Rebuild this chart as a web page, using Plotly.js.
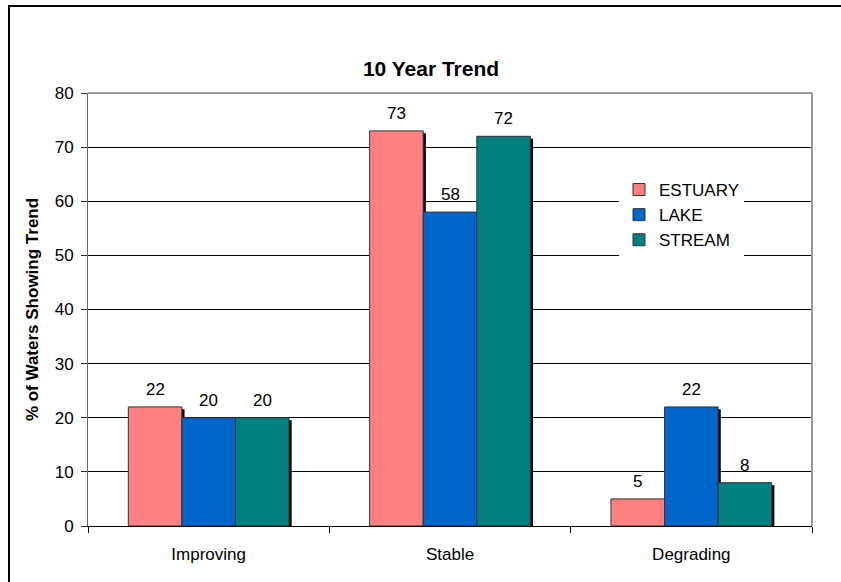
<!DOCTYPE html>
<html>
<head>
<meta charset="utf-8">
<script src="https://cdn.plot.ly/plotly-3.0.1.min.js"></script>
<style>
  html, body { margin: 0; padding: 0; background: #ffffff; overflow: hidden; width: 841px; height: 582px; }
  #hline { position: absolute; left: 8px; top: 5px; width: 833px; height: 2px; background: #000; }
  #vline { position: absolute; left: 8px; top: 5px; width: 2px; height: 577px; background: #000; }
  #chart { position: absolute; left: 0; top: 0; width: 841px; height: 582px; }
</style>
</head>
<body>
<div id="hline"></div>
<div id="vline"></div>
<div id="chart"></div>
<script>
// ---- data ----
const categories = ['Improving', 'Stable', 'Degrading'];
const seriesNames = ['ESTUARY', 'LAKE', 'STREAM'];
const estuary = [22, 73, 5];
const lake = [20, 58, 22];
const stream = [20, 72, 8];
const yTicks = [0, 10, 20, 30, 40, 50, 60, 70, 80];

// ---- styling ----
const colors = ['#FF8080', '#0066CC', '#008080'];
const FONT = '"Liberation Sans", Arial, sans-serif';
const barW = 0.222;
const offsets = [-0.333, -0.111, 0.111];
const shadowDx = 0.011;   // category units (~2.5px)
const shadowDy = 0.45;    // value units (~2.5px)

const allSeries = [estuary, lake, stream];
const idx = categories.map((c, i) => i);

const traces = [];
// shadows first
allSeries.forEach((vals, s) => {
  traces.push({
    type: 'bar', x: idx, y: vals.map(v => v - shadowDy),
    offset: offsets[s] + shadowDx, width: barW,
    marker: { color: '#000000', line: { width: 0 } },
    showlegend: false, hoverinfo: 'skip'
  });
});
// real bars
allSeries.forEach((vals, s) => {
  traces.push({
    type: 'bar', name: seriesNames[s], x: idx, y: vals,
    offset: offsets[s], width: barW,
    marker: { color: colors[s], line: { color: '#333333', width: 1 } }
  });
});

// data labels
const annotations = [];
allSeries.forEach((vals, s) => {
  vals.forEach((v, i) => {
    annotations.push({
      x: i + offsets[s] + barW / 2, y: v, xref: 'x', yref: 'y',
      text: String(v), showarrow: false, yanchor: 'bottom', yshift: 6,
      font: { family: FONT, size: 17, color: '#000' }
    });
  });
});

const layout = {
  width: 841, height: 582,
  margin: { l: 88, r: 29, t: 93, b: 56 },
  paper_bgcolor: 'rgba(0,0,0,0)',
  plot_bgcolor: '#ffffff',
  barmode: 'overlay',
  font: { family: FONT, size: 17, color: '#000' },
  title: {
    text: '<b>10 Year Trend</b>',
    font: { family: FONT, size: 21, color: '#000' },
    xref: 'container', yref: 'container',
    x: 431 / 841, xanchor: 'center',
    y: 1 - 68.5 / 582, yanchor: 'middle'
  },
  xaxis: {
    type: 'linear', range: [-0.5, 2.5],
    tickmode: 'array', tickvals: idx, ticktext: categories,
    showgrid: false, zeroline: false,
    showline: true, linecolor: '#000', linewidth: 1,
    ticks: '', ticklabelstandoff: 13,
    tickfont: { family: FONT, size: 17, color: '#000' }
  },
  xaxis2: {
    overlaying: 'x', range: [-0.5, 2.5], tickmode: 'array',
    tickvals: [-0.5, 0.5, 1.5, 2.5], ticktext: ['', '', '', ''],
    ticks: 'outside', ticklen: 6, tickcolor: '#000', showgrid: false,
    zeroline: false, showline: false, anchor: 'y', side: 'bottom'
  },
  yaxis: {
    range: [0, 80], tickmode: 'array', tickvals: yTicks,
    showgrid: true, gridcolor: '#000', gridwidth: 1,
    zeroline: false, showline: true, linecolor: '#666', linewidth: 1,
    ticks: 'outside', ticklen: 6, tickcolor: '#333', ticklabelstandoff: 4,
    tickfont: { family: FONT, size: 17, color: '#000' },
    title: { text: '<b>% of Waters Showing Trend</b>', standoff: 11,
             font: { family: FONT, size: 17, color: '#000' } }
  },
  legend: {
    x: (619 - 88) / 724, y: (526 - 172) / 433, xanchor: 'left', yanchor: 'top',
    bgcolor: '#ffffff', borderwidth: 0,
    font: { family: FONT, size: 17, color: '#000' },
    traceorder: 'normal'
  },
  shapes: [
    { type: 'line', xref: 'paper', yref: 'paper', x0: 0, x1: 1, y0: 1, y1: 1,
      line: { color: '#999999', width: 2 } },
    { type: 'line', xref: 'paper', yref: 'paper', x0: 1, x1: 1, y0: 0, y1: 1,
      line: { color: '#999999', width: 2 } }
  ],
  annotations: annotations,
  showlegend: true
};

// invisible trace carrying the boundary ticks of xaxis2
traces.push({ type: 'scatter', x: [-0.5], y: [0], xaxis: 'x2', yaxis: 'y',
  mode: 'markers', marker: { opacity: 0 }, showlegend: false, hoverinfo: 'skip' });

Plotly.newPlot('chart', traces, layout, { displayModeBar: false, staticPlot: true });
</script>
</body>
</html>
